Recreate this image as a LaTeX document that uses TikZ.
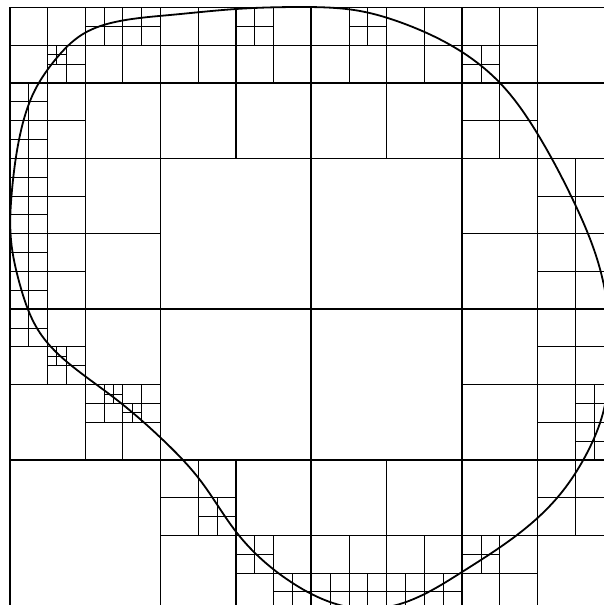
\documentclass[tikz,border=0pt]{standalone}
\usetikzlibrary{hobby}
\begin{document}
\begin{tikzpicture}[x=1pt,y=-1pt]
\tikzset{
  grid0/.style={line width=1.8pt},
  grid1/.style={line width=1.5pt},
  grid2/.style={line width=1.2pt},
  grid3/.style={line width=0.9pt},
  grid4/.style={line width=0.85pt},
  grid5/.style={line width=0.8pt},
  blob/.style={line width=1.8pt, line join=round},
}
\useasboundingbox (0,0) rectangle (604,605);
\clip (0,0) rectangle (604,605);
\begin{scope}[shift={(9.7pt,-7.5pt)}, x=9.425pt, y=-9.425pt]
  % level-5 splits (size 2)
  \foreach \a/\b in {4/4,4/36,10/40,12/42}
    \draw[grid5] (\a+1,\b) -- ++(0,2) (\a,\b+1) -- ++(2,0);
  % level-4 splits (size 4)
  \foreach \a/\b in {4/4,8/0,12/0,0/8,0/12,24/0,36/0,48/4,0/16,0/20,0/24,0/28,0/32,4/36,8/40,12/40,60/40,60/44,20/52,24/56,28/60,32/60,36/60,40/60,44/60,48/56}
    \draw[grid4] (\a+2,\b) -- ++(0,4) (\a,\b+2) -- ++(4,0);
  % level-3 splits (size 8)
  \foreach \a/\b in {0/0,8/0,0/8,16/0,24/0,32/0,40/0,48/0,48/8,0/16,0/24,56/16,56/24,0/32,8/40,56/32,56/40,16/48,24/56,32/56,40/56,56/48,48/56}
    \draw[grid3] (\a+4,\b) -- ++(0,8) (\a,\b+4) -- ++(8,0);
  % level-2 splits (size 16)
  \foreach \a/\b in {0/0,16/0,32/0,48/0,0/16,48/16,0/32,48/32,16/48,32/48,48/48}
    \draw[grid2] (\a+8,\b) -- ++(0,16) (\a,\b+8) -- ++(16,0);
  % level-1 splits (size 32)
  \foreach \a/\b in {0/0,32/0,0/32,32/32}
    \draw[grid1] (\a+16,\b) -- ++(0,32) (\a,\b+16) -- ++(32,0);
  % root split and boundary
  \draw[grid0] (32,0) -- (32,64) (0,32) -- (64,32);
  \draw[grid0] (0,0) rectangle (64,64);
\end{scope}
\draw[blob] plot[closed hobby] coordinates {
  (300,7) (360,11) (405,24) (462,52) (500,83) (537,133) (573,200)
  (598,262) (609,320) (609,375) (603,413) (587,453) (557,498) (517,535)
  (462,572) (400,604) (365,609) (336,604) (291,582) (237,533) (200,480)
  (163,440) (117,400) (77,370) (40,333) (20,285) (11,240) (12,190)
  (20,135) (35,90) (55,60) (83,34) (120,21) (170,15) (236,9)};
\end{tikzpicture}
\end{document}
